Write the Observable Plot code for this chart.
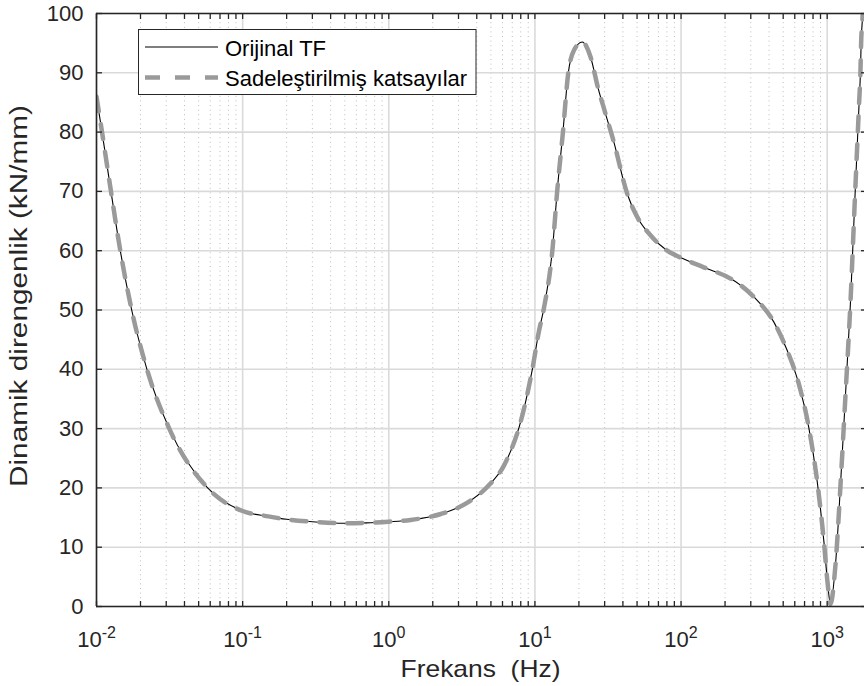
<!DOCTYPE html>
<html><head><meta charset="utf-8">
<script src="https://cdn.jsdelivr.net/npm/d3@7"></script>
<script src="https://cdn.jsdelivr.net/npm/@observablehq/plot@0.6"></script>
<style>
body{margin:0;background:#fff;}
#chart{width:864px;height:686px;}
svg text{font-family:"Liberation Sans",Arial,sans-serif;}
</style></head><body><div id="chart"></div>
<script>
// ---- data ----
const freqHz = [0.01, 0.01091, 0.01256, 0.01455, 0.01741, 0.02214, 0.03148, 0.0576, 0.1, 0.15, 0.2, 0.3, 0.5, 0.7, 1.0, 1.41, 2.27, 3.45, 4.73, 6.15, 6.82, 7.79, 9.6, 10.67, 11.5, 13.16, 14.2, 15.55, 16.9, 18.5, 21.1, 24.0, 27.0, 30.5, 34.7, 42.8, 50.1, 61.8, 80.5, 100, 143, 218, 255, 315, 431, 532, 640, 748, 853, 948, 1009, 1052, 1140, 1234, 1335, 1445, 1536, 1654, 1688, 1707, 1750, 1800];
const stiffnessOriginal = [86, 80, 70, 60, 50, 40, 30, 20, 16.1, 15.2, 14.7, 14.3, 14.05, 14.1, 14.3, 14.6, 15.6, 17.5, 20.2, 23.8, 26.2, 30.2, 40, 46.5, 50.2, 60, 70, 80, 89.9, 93.8, 95.2, 92.7, 87.5, 83, 78.3, 69.6, 65.7, 62.6, 60.0, 58.8, 57.2, 55.3, 54.2, 52.2, 48.0, 43.2, 37.5, 30.2, 21.2, 11.1, 3.7, 0.4, 7.1, 20.6, 35.8, 51.6, 67, 85, 90, 95, 100, 110];
const stiffnessSimplified = [86, 80, 70, 60, 50, 40, 30, 20, 16.1, 15.2, 14.7, 14.3, 14.05, 14.1, 14.3, 14.6, 15.6, 17.5, 20.2, 23.8, 26.2, 30.2, 40, 46.5, 50.2, 60, 70, 80, 89.9, 93.8, 95.2, 92.7, 87.5, 83, 78.3, 69.6, 65.7, 62.6, 60.0, 58.8, 57.2, 55.3, 54.2, 52.2, 48.0, 43.2, 37.5, 30.2, 21.2, 11.1, 3.7, 0.4, 7.1, 20.6, 35.8, 51.6, 67, 85, 90, 95, 100, 110];
const seriesNames = ["Orijinal TF", "Sadeleştirilmiş katsayılar"];
const xDecades = [0.01, 0.1, 1, 10, 100, 1000];
const xDecadeExponents = ["-2", "-1", "0", "1", "2", "3"];
const minorMultipliers = [2, 3, 4, 5, 6, 7, 8, 9];
const yTicks = [0, 10, 20, 30, 40, 50, 60, 70, 80, 90, 100];
const xLabel = "Frekans\u00a0 (Hz)";
const yLabel = "Dinamik direngenlik (kN/mm)";
const xDomain = [0.01, 1800];
const yDomain = [0, 100];

// ---- build tables ----
const orig = freqHz.map((f, i) => ({f, v: stiffnessOriginal[i]}));
const simp = freqHz.map((f, i) => ({f, v: stiffnessSimplified[i]}));
const xMinor = xDecades.flatMap(d => minorMultipliers.map(m => d * m)).filter(v => v <= xDomain[1]);
const xAll = [...xDecades, ...xMinor];
const expOf = new Map(xDecades.map((d, i) => [d, xDecadeExponents[i]]));

const ink = "#262626";
const gray = "#9a9a9a";
const chart = Plot.plot({
  width: 864, height: 686,
  marginLeft: 96, marginRight: 0, marginTop: 13, marginBottom: 80,
  style: {fontFamily: "Liberation Sans, Arial, sans-serif", fontSize: "22px", color: ink, background: "#fff"},
  x: {type: "log", domain: xDomain, label: null},
  y: {domain: yDomain, label: null},
  marks: [
    Plot.gridX(xMinor, {stroke: "#bcbcbc", strokeOpacity: 1, strokeWidth: 1, strokeDasharray: "1,3.6"}),
    Plot.gridX(xDecades, {stroke: "#dadada", strokeOpacity: 1, strokeWidth: 1.6}),
    Plot.gridY(yTicks, {stroke: "#dadada", strokeOpacity: 1, strokeWidth: 1.6}),
    Plot.line(orig, {x: "f", y: "v", stroke: "#000", strokeWidth: 1.1, curve: "monotone-x", clip: true}),
    Plot.line(simp, {x: "f", y: "v", stroke: gray, strokeWidth: 4.5, strokeDasharray: "15,13", curve: "monotone-x", clip: true}),
    Plot.ruleY([yDomain[0]], {stroke: ink, strokeWidth: 1.6}),
    Plot.ruleY([yDomain[1]], {stroke: ink, strokeWidth: 1.6}),
    Plot.ruleX([xDomain[0]], {stroke: ink, strokeWidth: 1.6}),
    Plot.axisX(xAll, {anchor: "bottom", tickSize: -5, tickFormat: () => "", label: null, stroke: ink, strokeWidth: 1.3}),
    Plot.axisX(xAll, {anchor: "top", tickSize: -5, tickFormat: () => "", label: null, stroke: ink, strokeWidth: 1.3}),
    Plot.axisY(yTicks, {anchor: "left", tickSize: -6, tickFormat: () => "", label: null, stroke: ink, strokeWidth: 1.3}),
    Plot.axisY(yTicks, {anchor: "right", tickSize: -4, tickFormat: () => "", label: null, stroke: ink, strokeWidth: 1.3}),
    Plot.axisY(yTicks, {anchor: "left", tickSize: 0, tickPadding: 13, fontSize: 22, label: null, fill: ink}),
    Plot.axisX(xDecades, {anchor: "bottom", tickSize: 0, tickPadding: 25, fontSize: 22, label: null, fill: ink, tickFormat: d => "X" + expOf.get(d)}),
    Plot.text([xLabel], {frameAnchor: "bottom", text: d => d, dy: 70, fontSize: 24, fill: ink, lineAnchor: "bottom", textAnchor: "middle"}),
    Plot.text([yLabel], {frameAnchor: "left", text: d => d, rotate: -90, dx: -70, dy: -14, fontSize: 23, fill: ink, lineAnchor: "bottom", textAnchor: "middle"})
  ]
});
document.getElementById("chart").appendChild(chart);

const svg = d3.select(chart);
// superscript exponents on the x tick labels
svg.selectAll("text").each(function() {
  const t = this.textContent;
  if (t.startsWith("X")) {
    const e = t.slice(1);
    const sel = d3.select(this);
    sel.text(null);
    sel.append("tspan").text("10");
    sel.append("tspan").attr("dy", -9).attr("font-size", 16).text(e);
  }
});
// axis titles are stretched along their length in the reference
svg.selectAll("text").filter(function() { return this.textContent === yLabel; })
  .attr("textLength", 382).attr("lengthAdjust", "spacingAndGlyphs");
svg.selectAll("text").filter(function() { return this.textContent === xLabel; })
  .attr("textLength", 160).attr("lengthAdjust", "spacingAndGlyphs");

// legend box inside the plot
const lg = svg.append("g").attr("font-family", "Liberation Sans, Arial, sans-serif").attr("font-size", 22).attr("fill", "#000").attr("text-anchor", "start");
lg.append("rect").attr("x", 138.5).attr("y", 29.5).attr("width", 337.5).attr("height", 65)
  .attr("fill", "#fff").attr("stroke", ink).attr("stroke-width", 1);
lg.append("line").attr("x1", 145).attr("x2", 218).attr("y1", 47).attr("y2", 47).attr("stroke", "#000").attr("stroke-width", 1.1);
lg.append("line").attr("x1", 145).attr("x2", 218).attr("y1", 77.5).attr("y2", 77.5).attr("stroke", gray).attr("stroke-width", 4.5).attr("stroke-dasharray", "15,15");
lg.append("text").attr("x", 225).attr("y", 56).text(seriesNames[0]);
lg.append("text").attr("x", 225).attr("y", 86).text(seriesNames[1]);
</script></body></html>
